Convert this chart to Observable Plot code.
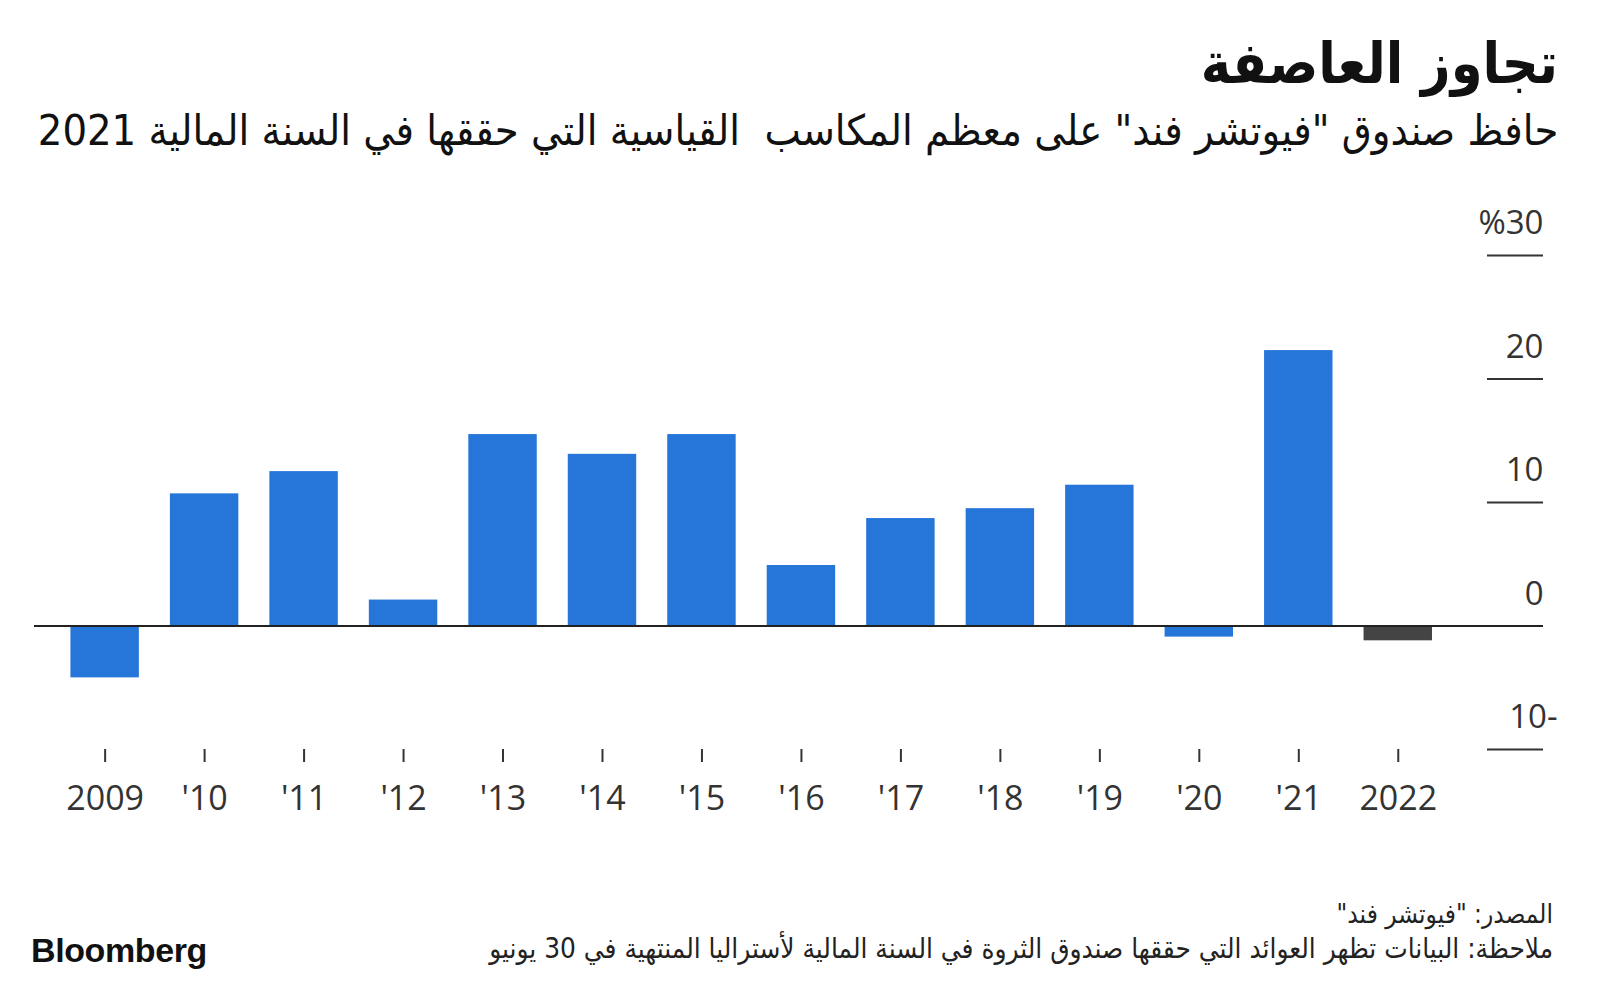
<!DOCTYPE html>
<html>
<head>
<meta charset="utf-8">
<script src="https://cdn.jsdelivr.net/npm/d3@7"></script>
<script src="https://cdn.jsdelivr.net/npm/@observablehq/plot@0.6"></script>
<style>
  html, body { margin: 0; padding: 0; background: #fff; }
  body { width: 1600px; height: 984px; position: relative; overflow: hidden; }
  .ar { position: absolute; direction: rtl; text-align: right; white-space: pre; color: #111; font-family: "DejaVu Sans Condensed", "DejaVu Sans", sans-serif; transform-origin: right center; }
  #title { right: 42px; top: 32px; font-size: 57px; line-height: 62px; font-weight: bold; }
  #subtitle { right: 42px; top: 107px; font-size: 42px; line-height: 48px; transform: scaleX(1.023); }
  #source { right: 47px; top: 899px; font-size: 26px; line-height: 30px; color: #222; }
  #note { right: 47px; top: 933px; font-size: 27.7px; line-height: 32px; color: #222; }
  #logo { position: absolute; left: 31px; top: 931px; font-family: "Liberation Sans", Arial, sans-serif; font-weight: bold; font-size: 34px; line-height: 38px; letter-spacing: -0.4px; color: #111; }
  #chart { position: absolute; left: 0; top: 170px; }
</style>
</head>
<body>
<div id="title" class="ar">تجاوز العاصفة</div>
<div id="subtitle" class="ar">حافظ صندوق "فيوتشر فند" على معظم المكاسب  القياسية التي حققها في السنة المالية 2021</div>
<div id="chart"></div>
<div id="source" class="ar">المصدر: "فيوتشر فند"</div>
<div id="note" class="ar">ملاحظة: البيانات تظهر العوائد التي حققها صندوق الثروة في السنة المالية لأستراليا المنتهية في 30 يونيو</div>
<div id="logo">Bloomberg</div>
<script>
// Data
const years = ["2009","2010","2011","2012","2013","2014","2015","2016","2017","2018","2019","2020","2021","2022"];
const yearLabels = ["2009","'10","'11","'12","'13","'14","'15","'16","'17","'18","'19","'20","'21","2022"];
const returns = [-4.2, 10.7, 12.5, 2.1, 15.5, 13.9, 15.5, 4.9, 8.7, 9.5, 11.4, -0.9, 22.3, -1.2];
const highlightYear = "2022";
const yTicks = [30, 20, 10, 0, -10];
const yTickLabels = ["%30", "20", "10", "0", "10-"];

const data = years.map((y, i) => ({year: y, label: yearLabels[i], value: returns[i]}));
const labelOf = new Map(years.map((y, i) => [y, yearLabels[i]]));
const tickLabelOf = new Map(yTicks.map((t, i) => [t, yTickLabels[i]]));

const blue = "#2675d9";
const dark = "#444444";
const ink = "#333333";

const chart = Plot.plot({
  width: 1600,
  height: 670,
  marginTop: 85,
  marginBottom: 91,
  marginLeft: 34,
  marginRight: 113,
  style: {fontFamily: "'Open Sans', sans-serif", color: ink, background: "transparent", overflow: "visible"},
  x: {type: "band", domain: years, range: [54.9, 1447.5], paddingInner: 0.312, paddingOuter: 0.156, round: false, axis: null},
  y: {domain: [-10, 30], axis: null},
  marks: [
    Plot.ruleY(yTicks.filter(t => t !== 0), {stroke: ink, strokeWidth: 2, insetLeft: 1453, insetRight: -56}),
    Plot.barY(data, {x: "year", y: "value", fill: d => d.year === highlightYear ? dark : blue}),
    Plot.ruleY([0], {stroke: "#222", strokeWidth: 2, insetRight: -56}),
    Plot.text(yTicks.filter(t => t >= 0), {y: d => d, text: d => tickLabelOf.get(d), frameAnchor: "right", textAnchor: "end", dx: 56, dy: -32, fontSize: 33, fill: ink}),
    Plot.text(yTicks.filter(t => t < 0), {y: d => d, text: d => tickLabelOf.get(d), frameAnchor: "right", textAnchor: "end", dx: 70, dy: -32, fontSize: 33, fill: ink}),
    Plot.axisX({tickSize: 13, tickPadding: 23, fontSize: 34, strokeWidth: 2, tickFormat: d => labelOf.get(d), label: null})
  ]
});
document.getElementById("chart").appendChild(chart);
</script>
</body>
</html>
